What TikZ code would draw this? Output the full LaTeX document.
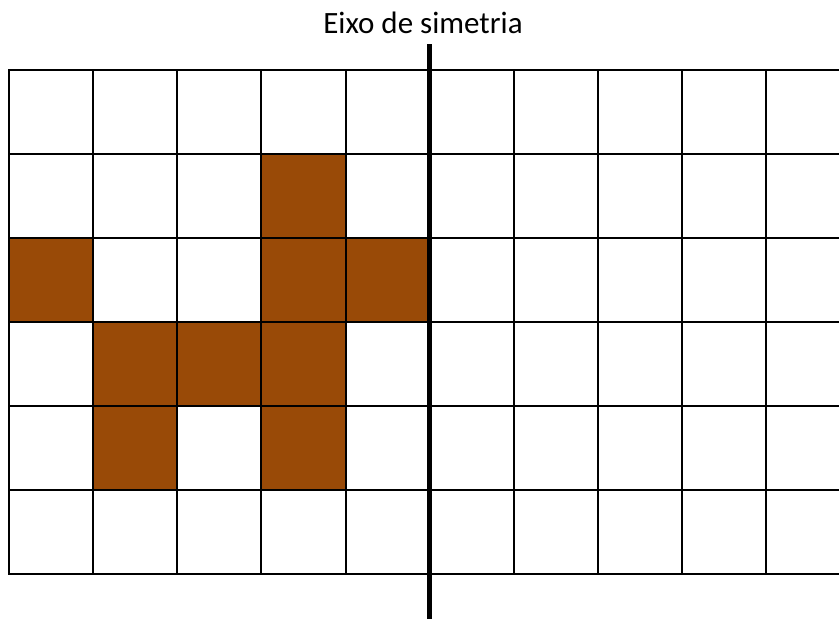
\documentclass[tikz,border=0pt]{standalone}
\usepackage{fontspec}
\setmainfont{Carlito}
\definecolor{brownfill}{RGB}{153,74,7}
\begin{document}
\begin{tikzpicture}[x=1pt,y=-1pt,
  gridline/.style={black,line width=2pt},
  axisline/.style={black,line width=5pt},
  cellfill/.style={fill=brownfill},
  titletext/.style={font=\fontsize{31}{37}\selectfont,inner sep=0pt,anchor=base}]
\useasboundingbox (0,0) rectangle (839,619);
\clip (0,0) rectangle (839,619);
\fill[white] (0,0) rectangle (839,619);
% filled cells
\foreach \c/\r in {3/1,0/2,3/2,4/2,1/3,2/3,3/3,1/4,3/4}
  \fill[cellfill] ({9.3+84.05*\c},{70.3+84*\r}) rectangle ++(84.05,84);
% grid
\foreach \i in {0,...,10}
  \draw[gridline] ({9.3+84.05*\i},70.3) -- ({9.3+84.05*\i},574.3);
\foreach \j in {0,...,6}
  \draw[gridline] (8.3,{70.3+84*\j}) -- (852,{70.3+84*\j});
% axis of symmetry
\coordinate (axtop) at (429.8,44);
\coordinate (axbot) at (429.8,625);
\draw[axisline] (axtop) -- (axbot);
% title
\node[titletext] (title) at (423,33) {Eixo de simetria};
\end{tikzpicture}
\end{document}
